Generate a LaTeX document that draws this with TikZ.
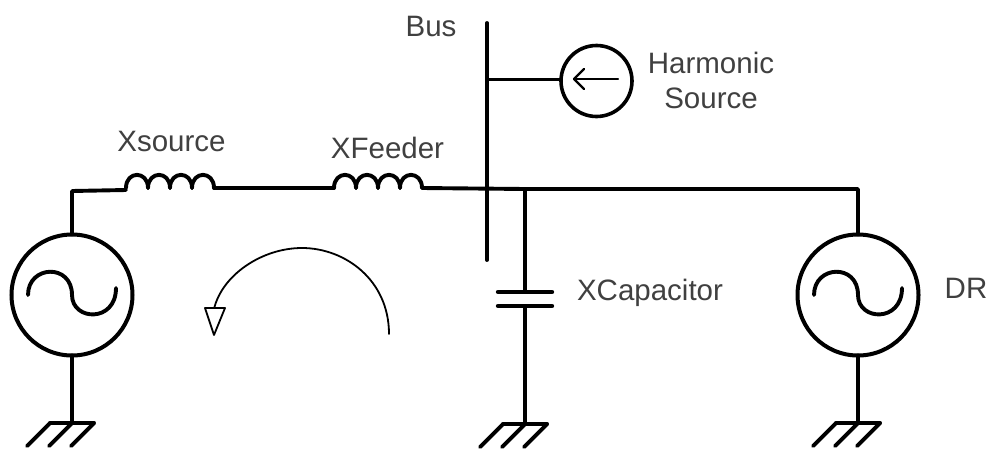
\documentclass[tikz,border=0pt]{standalone}
\usepackage{fontspec}
\setmainfont{Liberation Sans}
\usetikzlibrary{calc}
\definecolor{lbl}{HTML}{404040}
\tikzset{
  wire/.style={line width=3.9pt,black,line cap=round,line join=round},
  thinwire/.style={line width=3pt,black,line cap=round,line join=round},
  gen/.style={circle,draw,black,line width=4pt,minimum size=121pt,inner sep=0pt,outer sep=0pt},
  hsrc/.style={circle,draw,black,line width=3.6pt,minimum size=71pt,inner sep=0pt,outer sep=0pt},
  lbl/.style={text=lbl,font=\fontsize{29.5}{35}\selectfont,inner sep=0pt,align=center},
}
\newcommand{\inductor}[2]{%
  \foreach \k in {0,1,2,3}{
    \draw[wire] ({#1+22*\k},#2) .. controls ({#1+22*\k},{#2-17.5}) and ({#1+22*\k+22},{#2-17.5}) .. ({#1+22*\k+22},#2);
  }}
\newcommand{\groundsym}[2]{%
  \draw[wire] ({#1-22},#2) -- ({#1+22},#2);
  \foreach \d in {-22,0,22}{
    \draw[wire] ({#1+\d},#2) -- ({#1+\d-23},{#2+23});
  }}
\newcommand{\sinewave}[1]{%
  \draw[wire] ($(#1)+(-44,0)$) .. controls ($(#1)+(-44,-30)$) and ($(#1)+(0,-32)$) .. (#1)
     .. controls ($(#1)+(0,26)$) and ($(#1)+(44,28)$) .. ($(#1)+(44,-7)$);}
\begin{document}
\begin{tikzpicture}[x=1pt,y=-1pt]
\useasboundingbox (0,0) rectangle (990,450);
% generators and source
\node[gen] (G1) at (72,295) {};
\node[gen] (G2) at (858,295) {};
\node[hsrc] (HS) at (596.5,81) {};
% named points
\coordinate (L1a) at (126,190);
\coordinate (L1b) at (214,188);
\coordinate (L2a) at (334,188);
\coordinate (L2b) at (422,188);
\coordinate (BusTop) at (487,23);
\coordinate (BusBot) at (487,260);
\coordinate (BusTap) at (487,79);
\coordinate (Junc) at (525,189);
\coordinate (CapT) at (525,292);
\coordinate (CapB) at (525,306);
\coordinate (Gnd1) at (72,423);
\coordinate (Gnd2) at (858,423);
\coordinate (Gnd3) at (525,424);
\coordinate (Corner1) at (72,191);
\coordinate (Corner2) at (858,189);
% inductors
\inductor{126}{188}
\inductor{334}{188}
% wires
\draw[wire] (G1.north) -- (Corner1) -- (L1a);
\draw[wire] (L1b) -- (L2a);
\draw[wire] (L2b) -- (Junc) -- (Corner2) -- (G2.north);
\draw[wire] (BusTop) -- (BusBot);
\draw[thinwire] (BusTap) -- (BusTap -| HS.west);
\draw[wire] (Junc) -- (CapT);
\draw[wire] (CapB) -- (Gnd3);
\draw[wire] (G1.south) -- (Gnd1);
\draw[wire] (G2.south) -- (Gnd2);
% capacitor plates
\draw[wire,line width=4.4pt] (498,292) -- (552,292);
\draw[wire,line width=4.4pt] (498,306) -- (552,306);
% grounds
\groundsym{72}{423}
\groundsym{858}{423}
\groundsym{525}{424}
% sine waves
\sinewave{G1.center}
\sinewave{G2.center}
% harmonic arrow
\draw[line width=2.4pt,black,line cap=round,line join=round] (618,79) -- (574,79);
\draw[line width=2.4pt,black,line cap=round,line join=round] (584,69) -- (574,79) -- (584,89);
% loop arrow
\coordinate (ArcS) at (389,334);
\coordinate (ArcE) at (214,309);
\draw[line width=1.8pt,black,line cap=round] (ArcS) .. controls (389,280) and (345,248) .. (302,248)
   .. controls (262,248) and (222,275) .. (ArcE);
\draw[line width=1.8pt,black,line join=round,fill=white] (205,308) -- (225,308) -- (214,335) -- cycle;
% labels
\node[lbl,anchor=center] (tBus) at (431,26) {Bus};
\node[lbl,anchor=center] (tHS) at (711,80) {Harmonic\\Source};
\node[lbl,anchor=center] (tXs) at (171.5,141) {Xsource};
\node[lbl,anchor=center] (tXf) at (387.5,148) {XFeeder};
\node[lbl,anchor=center] (tXc) at (650,293) {XCapacitor};
\node[lbl,anchor=center] (tDR) at (966,288) {DR};
\end{tikzpicture}
\end{document}
